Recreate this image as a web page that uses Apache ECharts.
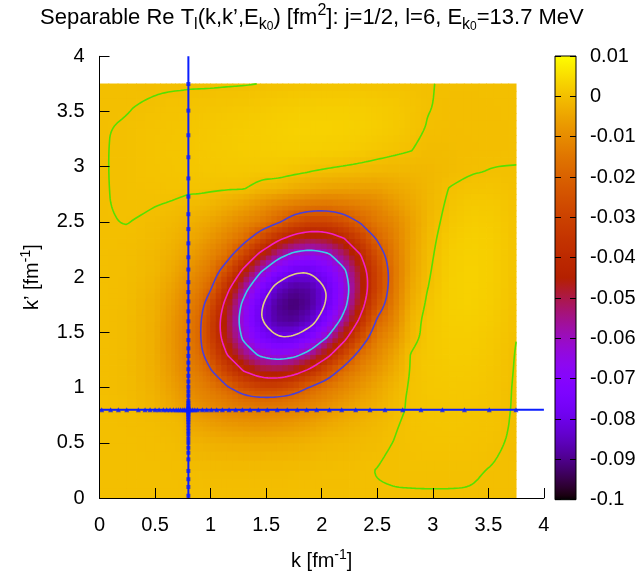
<!DOCTYPE html>
<html><head><meta charset="utf-8">
<script src="https://cdn.jsdelivr.net/npm/echarts@6/dist/echarts.min.js"></script>
<style>html,body{margin:0;padding:0;background:#fff;}#c{width:640px;height:576px;}</style>
</head><body><div id="c"></div>
<script>
// grid nodes (fm^-1)
const kNodes  = [0,0.25,0.5,0.65,0.75,0.8,0.9,1.0,1.15,1.3,1.45,1.6,1.75,1.9,2.05,2.2,2.35,2.5,2.65,2.8,2.95,3.15,3.35,3.55,3.75];
const kpNodes = [0,0.25,0.5,0.65,0.75,0.8,0.9,1.0,1.15,1.3,1.45,1.6,1.75,1.9,2.05,2.2,2.35,2.5,2.65,2.8,2.95,3.15,3.35,3.55,3.75];
// Re T values in units of 1e-4 fm^2; row j -> k' = kpNodes[j], column i -> k = kNodes[i]
const reT_1e4 = [
[-1,-1,-1,-1,-1,-1,-1,-1,-1,-1,-1,-1,-1,-1,-1,-1,-1,-1,-1,-1,-1,-1,-1,-1,-1],
[-1,-1,-1.5,-2,-3,-5,-6,-7,-7,-7,-7,-7,-6,-5,-4,-3,-2,0.5,1.5,1.8,2,2,1.5,-1,-2],
[-1,-1.5,-3,-5,-8,-20,-24,-27,-31,-33,-33,-31,-28,-23,-16,-13,-9,-6,0.5,4,6,7,6,3,-3],
[-1,-2,-5,-9,-14,-40,-48,-57,-68,-75,-77,-73,-65,-53,-39,-29,-20,-12,-2,5,8,9,8,5,-2.5],
[-1,-3,-8,-14,-20,-58,-71,-84,-101,-110,-114,-110,-101,-85,-66,-46,-32,-20,-6,5,9,10,9,5,-2],
[-1,-5,-20,-40,-58,-69,-84,-100,-118,-130,-136,-132,-121,-104,-81,-58,-40,-25,-8,4,10,11,10,6,-2],
[-1,-6,-24,-48,-71,-84,-104,-121,-144,-174,-189,-185,-164,-136,-111,-83,-55,-35,-12,5,11,13,12,7,-2],
[-1,-7,-27,-57,-84,-100,-121,-142,-191,-258,-298,-298,-259,-192,-142,-111,-78,-46,-18,4,12,15,14,8,-2],
[-1,-7,-31,-68,-101,-118,-144,-191,-309,-403,-466,-482,-448,-371,-264,-164,-116,-75,-35,2,14,18,17,10,-1.5],
[-1,-7,-33,-75,-110,-130,-174,-258,-403,-533,-622,-657,-634,-557,-434,-291,-164,-105,-55,1,14,21,20,12,-1],
[-1,-7,-33,-77,-114,-136,-189,-298,-466,-622,-736,-796,-790,-719,-594,-434,-264,-135,-85,-15,12,22,22,14,0.3],
[-1,-7,-31,-73,-110,-132,-185,-298,-482,-657,-796,-877,-888,-841,-719,-557,-371,-185,-115,-20,12,24,26,18,2],
[-1,-6,-28,-65,-101,-121,-164,-259,-448,-634,-790,-888,-920,-888,-790,-634,-448,-255,-135,-35,6,26,29,21,4],
[-1,-5,-23,-53,-85,-104,-136,-192,-371,-557,-719,-841,-888,-877,-796,-657,-482,-295,-150,-45,-1,25,30,22,5],
[-1,-4,-16,-39,-66,-81,-111,-142,-264,-434,-594,-719,-790,-796,-736,-622,-466,-295,-155,-55,-5,24,30,23,6],
[-1,-3,-13,-29,-46,-58,-83,-111,-164,-291,-434,-557,-634,-657,-622,-533,-403,-255,-143,-58,-9,22,29,23,6],
[-1,-2,-9,-20,-32,-40,-55,-78,-116,-164,-264,-371,-448,-482,-466,-403,-309,-191,-130,-60,-13,18,27,22,6],
[-1,0.5,-6,-12,-20,-25,-35,-46,-75,-105,-135,-185,-255,-295,-295,-255,-191,-142,-110,-60,-17,12,23,19,5],
[-1,1.5,0.5,-2,-6,-8,-12,-18,-35,-55,-85,-115,-135,-150,-155,-143,-130,-110,-75,-45,-18,6,17,15,4],
[-1,1.8,4,5,5,4,5,4,2,1,-15,-20,-35,-45,-55,-58,-60,-60,-45,-32,-17,1,8,8,2],
[-1,2,6,8,9,10,11,12,14,14,12,12,6,-1,-5,-9,-13,-17,-18,-17,-15,-7,-1,1,0.5],
[-1,2,7,9,10,11,13,15,18,21,22,24,26,25,24,22,18,12,6,1,-7,-6,-4,-3,-1],
[-1,1.5,6,8,9,10,12,14,17,20,22,26,29,30,30,29,27,23,17,8,-1,-4,-3,-2.5,-1.5],
[-1,-1,3,5,5,6,7,8,10,12,14,18,21,22,23,23,22,19,15,8,1,-3,-2.5,-2,-1.5],
[-1,-2,-3,-2.5,-2,-2,-2,-2,-1.5,-1,0.3,2,4,5,6,6,6,5,4,2,0.5,-1,-1.5,-1.5,-1.5]
];
const valueUnit = 1e-4;
// contour levels and their colours
const contourLevels = [0, -0.02, -0.04, -0.06, -0.08];
const contourColors = ['#55e000', '#4a3fd8', '#f020c8', '#3ad0e8', '#e2d27c'];
// momentum mesh points (shown as markers on the on-shell lines)
const meshPoints = [0.02,0.1,0.17,0.245,0.35,0.41,0.455,0.5,0.536,0.575,0.605,0.635,0.665,0.69,0.71,0.73,0.75,0.764,0.78,0.792,0.808,0.82,0.838,0.858,0.881,0.926,0.965,1.007,1.055,1.106,1.166,1.226,1.286,1.355,1.43,1.51,1.6,1.69,1.78,1.865,1.955,2.069,2.18,2.306,2.435,2.57,2.729,2.894,3.086,3.285,3.508,3.749];
const onShellK = 0.8;
const axisMin = 0, axisMax = 4, axisStep = 0.5;
const cbMin = -0.1, cbMax = 0.01, cbStep = 0.01;

const FONT = 'Liberation Sans, Arial, Helvetica, sans-serif';
const Z = reT_1e4.map(r => r.map(v => v * valueUnit));
const SUB = 3; // shading blocks per cell side

function pal(v) {
  let x = (v - cbMin) / (cbMax - cbMin);
  x = Math.max(0, Math.min(1, x));
  const r = Math.sqrt(x), g = x * x * x, b = Math.max(0, Math.sin(2 * Math.PI * x));
  return 'rgb(' + Math.round(r * 255) + ',' + Math.round(g * 255) + ',' + Math.round(b * 255) + ')';
}

// one data item per grid cell: bounds + the four corner values
const cells = [];
for (let j = 0; j < kpNodes.length - 1; j++) {
  for (let i = 0; i < kNodes.length - 1; i++) {
    cells.push([kNodes[i], kNodes[i + 1], kpNodes[j], kpNodes[j + 1], Z[j][i], Z[j][i + 1], Z[j + 1][i], Z[j + 1][i + 1]]);
  }
}

// marching squares contour lines
function contour(xs, ys, M, L) {
  const pts = {}; const segs = [];
  function ep(id, x1, y1, z1, x2, y2, z2) {
    if (!pts[id]) { const t = (L - z1) / (z2 - z1); pts[id] = [x1 + (x2 - x1) * t, y1 + (y2 - y1) * t]; }
    return id;
  }
  for (let j = 0; j < ys.length - 1; j++) {
    for (let i = 0; i < xs.length - 1; i++) {
      const a = M[j][i], b = M[j][i + 1], c = M[j + 1][i + 1], d = M[j + 1][i];
      const sa = a > L, sb = b > L, sc = c > L, sd = d > L;
      const E0 = sa !== sb ? ep('h' + i + '_' + j, xs[i], ys[j], a, xs[i + 1], ys[j], b) : null;
      const E1 = sb !== sc ? ep('v' + (i + 1) + '_' + j, xs[i + 1], ys[j], b, xs[i + 1], ys[j + 1], c) : null;
      const E2 = sd !== sc ? ep('h' + i + '_' + (j + 1), xs[i], ys[j + 1], d, xs[i + 1], ys[j + 1], c) : null;
      const E3 = sa !== sd ? ep('v' + i + '_' + j, xs[i], ys[j], a, xs[i], ys[j + 1], d) : null;
      const list = [E0, E1, E2, E3].filter(e => e !== null);
      if (list.length === 2) segs.push([list[0], list[1]]);
      else if (list.length === 4) {
        const center = (a + b + c + d) / 4 > L;
        if (sa === center) { segs.push([E0, E1]); segs.push([E2, E3]); }
        else { segs.push([E0, E3]); segs.push([E1, E2]); }
      }
    }
  }
  const adj = {};
  segs.forEach((s, idx) => { (adj[s[0]] = adj[s[0]] || []).push(idx); (adj[s[1]] = adj[s[1]] || []).push(idx); });
  const used = new Array(segs.length).fill(false);
  const lines = [];
  function extend(chain) {
    for (;;) {
      const last = chain[chain.length - 1];
      const cand = (adj[last] || []).find(k => !used[k]);
      if (cand === undefined) break;
      used[cand] = true;
      const s = segs[cand];
      chain.push(s[0] === last ? s[1] : s[0]);
    }
  }
  for (let s = 0; s < segs.length; s++) {
    if (used[s]) continue;
    used[s] = true;
    let chain = [segs[s][0], segs[s][1]];
    extend(chain);
    chain.reverse();
    extend(chain);
    lines.push({ closed: chain[0] === chain[chain.length - 1], pts: chain.map(id => pts[id]) });
  }
  return lines;
}
// corner-cutting smoothing of a contour path (drawing style only)
function smoothPath(line, iters) {
  let p = line.pts.slice();
  if (line.closed) p.pop();
  for (let it = 0; it < iters; it++) {
    const q = [];
    const n = p.length;
    if (line.closed) {
      for (let i = 0; i < n; i++) {
        const A = p[i], B = p[(i + 1) % n];
        q.push([0.75 * A[0] + 0.25 * B[0], 0.75 * A[1] + 0.25 * B[1]]);
        q.push([0.25 * A[0] + 0.75 * B[0], 0.25 * A[1] + 0.75 * B[1]]);
      }
    } else {
      q.push(p[0]);
      for (let i = 0; i < n - 1; i++) {
        const A = p[i], B = p[i + 1];
        if (i > 0) q.push([0.75 * A[0] + 0.25 * B[0], 0.75 * A[1] + 0.25 * B[1]]);
        if (i < n - 2) q.push([0.25 * A[0] + 0.75 * B[0], 0.25 * A[1] + 0.75 * B[1]]);
      }
      q.push(p[n - 1]);
    }
    p = q;
  }
  if (line.closed) p.push(p[0]);
  return p;
}

const series = [];
series.push({
  type: 'custom', xAxisIndex: 0, yAxisIndex: 0, z: 1, silent: true,
  data: cells, encode: { x: [0, 1], y: [2, 3] },
  renderItem: function (params, api) {
    const x0 = api.value(0), x1 = api.value(1), y0 = api.value(2), y1 = api.value(3);
    const z00 = api.value(4), z10 = api.value(5), z01 = api.value(6), z11 = api.value(7);
    const pA = api.coord([x0, y1]);
    const pB = api.coord([x1, y0]);
    const w = (pB[0] - pA[0]) / SUB, h = (pB[1] - pA[1]) / SUB;
    const children = [];
    for (let a = 0; a < SUB; a++) {
      for (let b = 0; b < SUB; b++) {
        const u = (a + 0.5) / SUB, t = 1 - (b + 0.5) / SUB;
        const v = z00 * (1 - u) * (1 - t) + z10 * u * (1 - t) + z01 * (1 - u) * t + z11 * u * t;
        children.push({ type: 'rect', shape: { x: pA[0] + a * w - 0.4, y: pA[1] + b * h - 0.4, width: w + 0.8, height: h + 0.8 },
          style: { fill: pal(v) } });
      }
    }
    return { type: 'group', children: children };
  }
});
contourLevels.forEach((L, li) => {
  contour(kNodes, kpNodes, Z, L).forEach(line => {
    series.push({ type: 'line', xAxisIndex: 0, yAxisIndex: 0, z: 3, silent: true, data: smoothPath(line, 3),
      symbol: 'none', showSymbol: false, smooth: false,
      lineStyle: { color: contourColors[li], width: 1.6 } });
  });
});
// on-shell lines
series.push({ type: 'line', xAxisIndex: 0, yAxisIndex: 0, z: 4, silent: true, symbol: 'none',
  data: [[onShellK, axisMin], [onShellK, axisMax]], lineStyle: { color: '#0a1eff', width: 2 } });
series.push({ type: 'line', xAxisIndex: 0, yAxisIndex: 0, z: 4, silent: true, symbol: 'none',
  data: [[axisMin, onShellK], [axisMax, onShellK]], lineStyle: { color: '#0a1eff', width: 2 } });
series.push({ type: 'scatter', xAxisIndex: 0, yAxisIndex: 0, z: 5, silent: true, symbol: 'rect', symbolSize: 4,
  data: meshPoints.map(m => [onShellK, m]), itemStyle: { color: '#0a1eff' } });
series.push({ type: 'scatter', xAxisIndex: 0, yAxisIndex: 0, z: 5, silent: true, symbol: 'triangle', symbolSize: 5,
  data: meshPoints.map(m => [m, onShellK]), itemStyle: { color: '#0a1eff' } });
// colour box
series.push({
  type: 'custom', xAxisIndex: 1, yAxisIndex: 1, z: 1, silent: true,
  data: [[0, 1, cbMin, cbMax]], encode: { x: [0, 1], y: [2, 3] },
  renderItem: function (params, api) {
    const pA = api.coord([0, cbMax]); const pB = api.coord([1, cbMin]);
    const stops = [];
    for (let t = 0; t <= 100; t++) stops.push({ offset: t / 100, color: pal(cbMax - (cbMax - cbMin) * t / 100) });
    return { type: 'rect', shape: { x: pA[0], y: pA[1], width: pB[0] - pA[0], height: pB[1] - pA[1] },
      style: { fill: new echarts.graphic.LinearGradient(0, 0, 0, 1, stops), stroke: '#000', lineWidth: 1 } };
  }
});

const tickFont = { color: '#000', fontFamily: FONT, fontSize: 20 };
const nameRich = {
  n: { fontFamily: FONT, fontSize: 20, fontWeight: 'normal', color: '#000', lineHeight: 26, verticalAlign: 'middle' },
  p: { fontFamily: FONT, fontSize: 14, fontWeight: 'normal', color: '#000', lineHeight: 14, verticalAlign: 'top' }
};
const mainAxisCommon = {
  type: 'value', min: axisMin, max: axisMax, interval: axisStep, z: 6,
  axisLine: { show: true, onZero: false, lineStyle: { color: '#000', width: 1 } },
  axisTick: { show: true, inside: true, length: 10, lineStyle: { color: '#000', width: 1 } },
  splitLine: { show: false }, nameLocation: 'middle'
};
const chart = echarts.init(document.getElementById('c'), null, { renderer: 'canvas' });
chart.setOption({
  animation: false,
  backgroundColor: '#fff',
  title: {
    text: '{n|Separable Re T}{s|l}{n|(k,k’,E}{s|k}{ss|0}{n|) [fm}{p|2}{n|]: j=1/2, l=6, E}{s|k}{ss|0}{n|=13.7 MeV}',
    left: 40, top: 3, padding: 0,
    textStyle: { fontWeight: 'normal', rich: {
      n: { fontFamily: FONT, fontSize: 22, fontWeight: 'normal', color: '#000', lineHeight: 30, verticalAlign: 'middle' },
      s: { fontFamily: FONT, fontSize: 16, fontWeight: 'normal', color: '#000', lineHeight: 15, verticalAlign: 'bottom' },
      ss: { fontFamily: FONT, fontSize: 12, fontWeight: 'normal', color: '#000', lineHeight: 8, verticalAlign: 'bottom' },
      p: { fontFamily: FONT, fontSize: 16, fontWeight: 'normal', color: '#000', lineHeight: 15, verticalAlign: 'top' }
    } }
  },
  grid: [
    { left: 99.5, top: 56.3, width: 444.4, height: 443.4 },
    { left: 555, top: 56, width: 21, height: 443.7 }
  ],
  xAxis: [
    Object.assign({}, mainAxisCommon, { gridIndex: 0, position: 'bottom',
      axisLabel: Object.assign({ margin: 17 }, tickFont),
      name: '{n|k [fm}{p|-1}{n|]}', nameGap: 50, nameTextStyle: { rich: nameRich } }),
    { gridIndex: 1, type: 'value', min: 0, max: 1, show: false }
  ],
  yAxis: [
    Object.assign({}, mainAxisCommon, { gridIndex: 0, position: 'left',
      axisLabel: Object.assign({ margin: 15 }, tickFont),
      name: '{n|k’ [fm}{p|-1}{n|]}', nameGap: 54, nameRotate: 90, nameTextStyle: { rich: nameRich } }),
    { gridIndex: 1, type: 'value', position: 'left', min: cbMin, max: cbMax, interval: cbStep, z: 6,
      axisLine: { show: false }, axisLabel: { show: false }, splitLine: { show: false },
      axisTick: { show: true, inside: true, length: 6, lineStyle: { color: '#000' } } },
    { gridIndex: 1, type: 'value', position: 'right', min: cbMin, max: cbMax, interval: cbStep, z: 6,
      axisLine: { show: false }, splitLine: { show: false },
      axisTick: { show: true, inside: true, length: 6, lineStyle: { color: '#000' } },
      axisLabel: Object.assign({ margin: 14, formatter: v => String(Math.round(v * 100) / 100) }, tickFont) }
  ],
  series: series
});
</script>
</body></html>
